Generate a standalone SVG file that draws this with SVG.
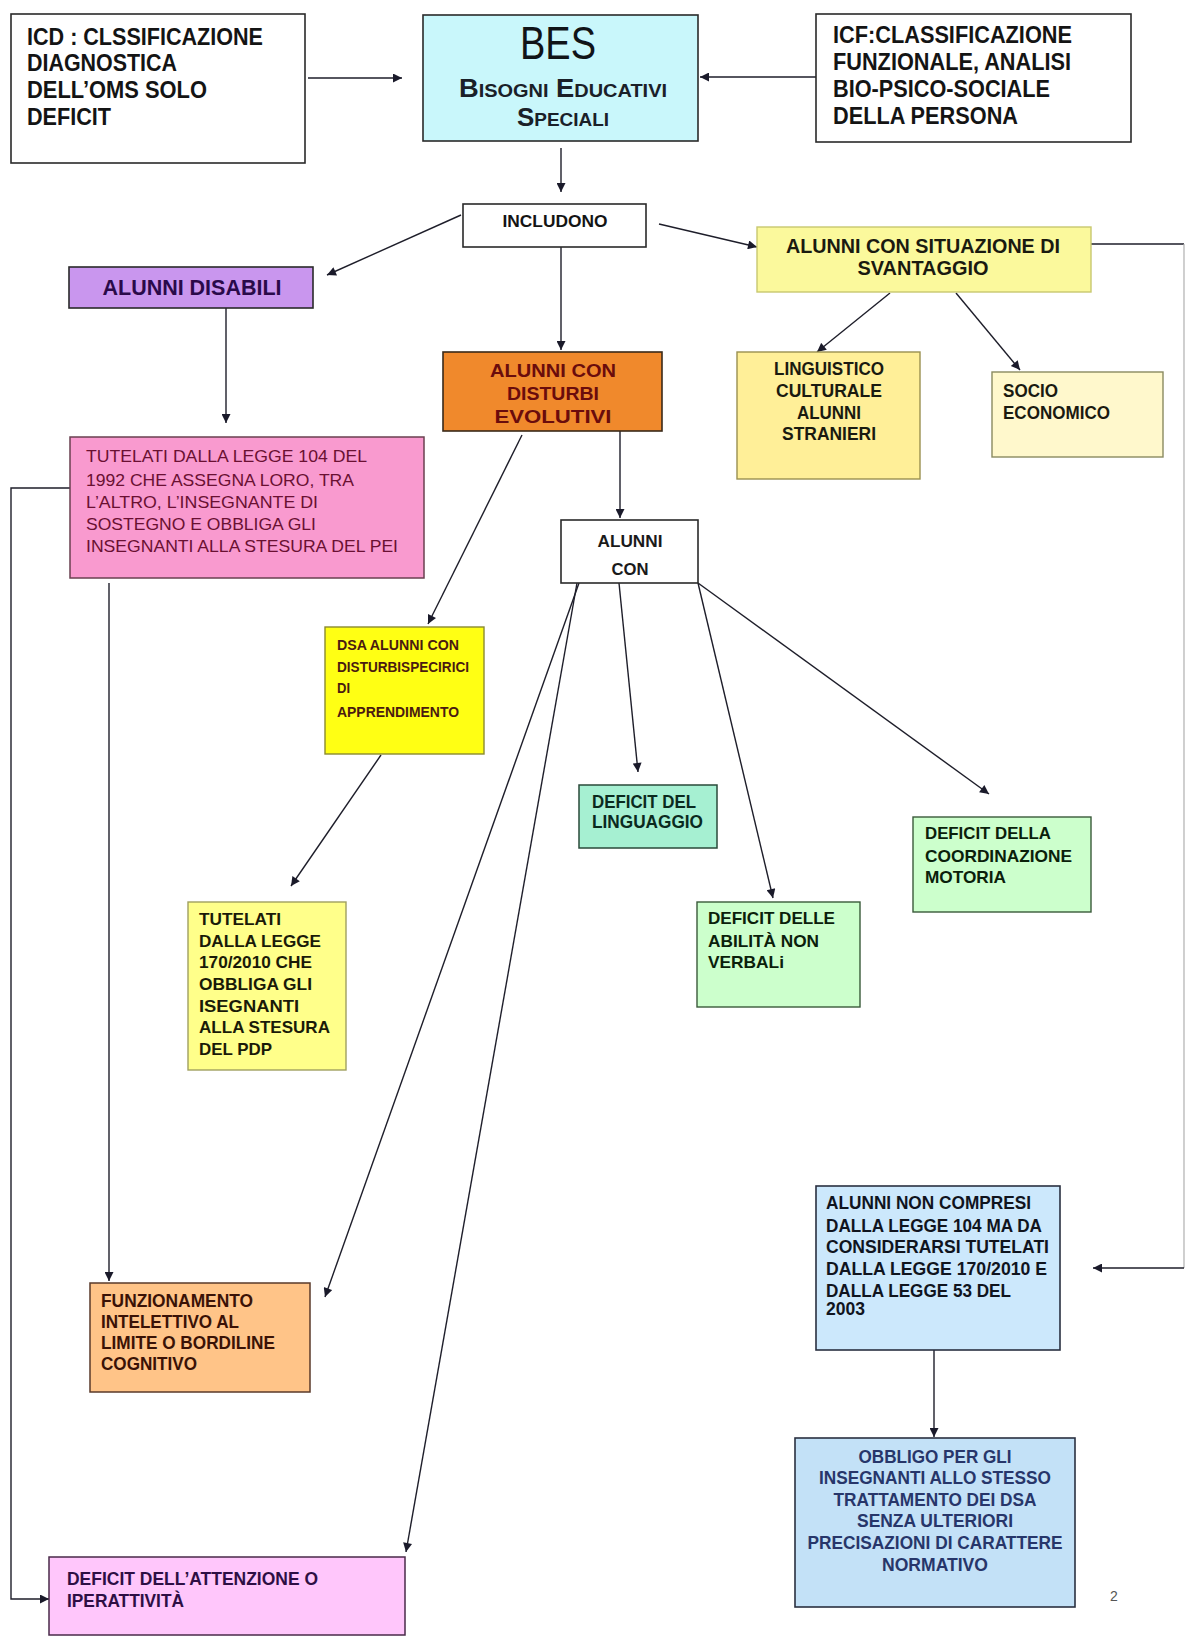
<svg xmlns="http://www.w3.org/2000/svg" width="1185" height="1639" viewBox="0 0 1185 1639">
<style>
.t{font-family:"Liberation Sans Narrow","Liberation Sans",Arial,sans-serif;font-weight:bold;}
.n{font-weight:normal;}
.m{text-anchor:middle;}
.bx{stroke:#2a2a2a;stroke-width:1.6;}
.c{fill:none;stroke:#1e1e2a;stroke-width:1.4;}
</style>
<defs>
<marker id="ah" viewBox="0 0 10 10" refX="10" refY="5" markerWidth="11" markerHeight="9" markerUnits="userSpaceOnUse" orient="auto">
<path d="M0,0 L10,5 L0,10 z" fill="#1a1a2a"/>
</marker>
</defs>
<rect width="1185" height="1639" fill="#ffffff"/>

<g id="connectors">
<path class="c" d="M308,78 L402,78" marker-end="url(#ah)"/>
<path class="c" d="M816,77 L700,77" marker-end="url(#ah)"/>
<path class="c" d="M561,148 L561,192" marker-end="url(#ah)"/>
<path class="c" d="M461,215 L327,275" marker-end="url(#ah)"/>
<path class="c" d="M561,247 L561,350" marker-end="url(#ah)"/>
<path class="c" d="M659,224 L757,247" marker-end="url(#ah)"/>
<path class="c" d="M1091,244 L1184,244"/>
<path d="M1184,244 L1184,1268" fill="none" stroke="#b0b0b0" stroke-width="1.2"/>
<path class="c" d="M1184,1268 L1093,1268" marker-end="url(#ah)"/>
<path class="c" d="M890,293 L817,352" marker-end="url(#ah)"/>
<path class="c" d="M956,293 L1020,370" marker-end="url(#ah)"/>
<path class="c" d="M226,298 L226,423" marker-end="url(#ah)"/>
<path class="c" d="M70,488 L11,488 L11,1599 L49,1599" marker-end="url(#ah)"/>
<path class="c" d="M109,583 L109,1281" marker-end="url(#ah)"/>
<path class="c" d="M522,435 L428,624" marker-end="url(#ah)"/>
<path class="c" d="M620,431 L620,518" marker-end="url(#ah)"/>
<path class="c" d="M381,755 L291,886" marker-end="url(#ah)"/>
<path class="c" d="M619,583 L638,772" marker-end="url(#ah)"/>
<path class="c" d="M698,583 L773,898" marker-end="url(#ah)"/>
<path class="c" d="M698,583 L989,794" marker-end="url(#ah)"/>
<path class="c" d="M579,583 L325,1297" marker-end="url(#ah)"/>
<path class="c" d="M577,583 L406,1552" marker-end="url(#ah)"/>
<path class="c" d="M934,1350 L934,1437" marker-end="url(#ah)"/>
</g>

<g id="icd">
<rect class="bx" x="11" y="14" width="294" height="149" fill="#ffffff"/>
<g class="t" font-size="24" fill="#141414">
<text x="27" y="45" textLength="236" lengthAdjust="spacingAndGlyphs">ICD : CLSSIFICAZIONE</text>
<text x="27" y="71" textLength="150" lengthAdjust="spacingAndGlyphs">DIAGNOSTICA</text>
<text x="27" y="98" textLength="180" lengthAdjust="spacingAndGlyphs">DELL’OMS SOLO</text>
<text x="27" y="125" textLength="84" lengthAdjust="spacingAndGlyphs">DEFICIT</text>
</g>
</g>

<g id="bes">
<rect class="bx" x="423" y="15" width="275" height="126" fill="#c9f7fb"/>
<text class="t n m" x="558" y="59" font-size="46" fill="#101418" textLength="76" lengthAdjust="spacingAndGlyphs">BES</text>
<text class="t m" x="563" y="97" fill="#1a2028" textLength="208" lengthAdjust="spacingAndGlyphs"><tspan font-size="26">B</tspan><tspan font-size="19">ISOGNI</tspan><tspan font-size="26"> E</tspan><tspan font-size="19">DUCATIVI</tspan></text>
<text class="t m" x="563" y="126" fill="#1a2028" textLength="92" lengthAdjust="spacingAndGlyphs"><tspan font-size="26">S</tspan><tspan font-size="19">PECIALI</tspan></text>
</g>

<g id="icf">
<rect class="bx" x="816" y="14" width="315" height="128" fill="#ffffff"/>
<g class="t" font-size="24" fill="#141414">
<text x="833" y="43" textLength="239" lengthAdjust="spacingAndGlyphs">ICF:CLASSIFICAZIONE</text>
<text x="833" y="70" textLength="238" lengthAdjust="spacingAndGlyphs">FUNZIONALE, ANALISI</text>
<text x="833" y="97" textLength="217" lengthAdjust="spacingAndGlyphs">BIO-PSICO-SOCIALE</text>
<text x="833" y="124" textLength="185" lengthAdjust="spacingAndGlyphs">DELLA PERSONA</text>
</g>
</g>

<g id="includono">
<rect class="bx" x="463" y="204" width="183" height="43" fill="#ffffff"/>
<text class="t m" x="555" y="227" font-size="17" fill="#141414" textLength="105" lengthAdjust="spacingAndGlyphs">INCLUDONO</text>
</g>

<g id="alunni-disabili">
<rect class="bx" x="69" y="267" width="244" height="41" fill="#c996ee"/>
<text class="t m" x="192" y="295" font-size="22" fill="#2a0a4a" textLength="179" lengthAdjust="spacingAndGlyphs">ALUNNI DISABILI</text>
</g>

<g id="svantaggio">
<rect x="757" y="227" width="334" height="65" fill="#fbf99c" stroke="#c8c870" stroke-width="1.4"/>
<g class="t m" font-size="21" fill="#1a1a10">
<text x="923" y="253" textLength="274" lengthAdjust="spacingAndGlyphs">ALUNNI CON SITUAZIONE DI</text>
<text x="923" y="275" textLength="131" lengthAdjust="spacingAndGlyphs">SVANTAGGIO</text>
</g>
</g>

<g id="linguistico">
<rect x="737" y="352" width="183" height="127" fill="#ffef98" stroke="#9a9050" stroke-width="1.4"/>
<g class="t m" font-size="18" fill="#1a1a10">
<text x="829" y="375" textLength="110" lengthAdjust="spacingAndGlyphs">LINGUISTICO</text>
<text x="829" y="397" textLength="106" lengthAdjust="spacingAndGlyphs">CULTURALE</text>
<text x="829" y="419" textLength="64" lengthAdjust="spacingAndGlyphs">ALUNNI</text>
<text x="829" y="440" textLength="94" lengthAdjust="spacingAndGlyphs">STRANIERI</text>
</g>
</g>

<g id="socio">
<rect x="992" y="372" width="171" height="85" fill="#fff8cc" stroke="#8a8a60" stroke-width="1.4"/>
<g class="t" font-size="18" fill="#1a1a10">
<text x="1003" y="397" textLength="55" lengthAdjust="spacingAndGlyphs">SOCIO</text>
<text x="1003" y="419" textLength="107" lengthAdjust="spacingAndGlyphs">ECONOMICO</text>
</g>
</g>

<g id="disturbi-evolutivi">
<rect x="443" y="352" width="219" height="79" fill="#f0892c" stroke="#3a2a1a" stroke-width="1.6"/>
<g class="t m" font-size="19" fill="#6a0c0c">
<text x="553" y="377" textLength="126" lengthAdjust="spacingAndGlyphs">ALUNNI CON</text>
<text x="553" y="400" textLength="92" lengthAdjust="spacingAndGlyphs">DISTURBI</text>
<text x="553" y="423" textLength="117" lengthAdjust="spacingAndGlyphs">EVOLUTIVI</text>
</g>
</g>

<g id="tutelati-104">
<rect x="70" y="437" width="354" height="141" fill="#f99acf" stroke="#6a4050" stroke-width="1.5"/>
<g class="t n" font-size="17" fill="#6a1032">
<text x="86" y="462" textLength="281" lengthAdjust="spacingAndGlyphs">TUTELATI DALLA LEGGE 104 DEL</text>
<text x="86" y="486" textLength="268" lengthAdjust="spacingAndGlyphs">1992 CHE ASSEGNA LORO, TRA</text>
<text x="86" y="508" textLength="232" lengthAdjust="spacingAndGlyphs">L’ALTRO, L’INSEGNANTE DI</text>
<text x="86" y="530" textLength="230" lengthAdjust="spacingAndGlyphs">SOSTEGNO E OBBLIGA GLI</text>
<text x="86" y="552" textLength="312" lengthAdjust="spacingAndGlyphs">INSEGNANTI ALLA STESURA DEL PEI</text>
</g>
</g>

<g id="alunni-con">
<rect class="bx" x="561" y="520" width="137" height="63" fill="#ffffff"/>
<g class="t m" font-size="17" fill="#1a1a1a">
<text x="630" y="547" textLength="65" lengthAdjust="spacingAndGlyphs">ALUNNI</text>
<text x="630" y="575" textLength="37" lengthAdjust="spacingAndGlyphs">CON</text>
</g>
</g>

<g id="dsa">
<rect x="325" y="627" width="159" height="127" fill="#ffff14" stroke="#8a8a30" stroke-width="1.4"/>
<g class="t" font-size="14" fill="#4a1a10">
<text x="337" y="650" textLength="122" lengthAdjust="spacingAndGlyphs">DSA ALUNNI CON</text>
<text x="337" y="672" textLength="132" lengthAdjust="spacingAndGlyphs">DISTURBISPECIRICI</text>
<text x="337" y="693" textLength="13" lengthAdjust="spacingAndGlyphs">DI</text>
<text x="337" y="717" textLength="122" lengthAdjust="spacingAndGlyphs">APPRENDIMENTO</text>
</g>
</g>

<g id="tutelati-170">
<rect x="188" y="902" width="158" height="168" fill="#ffff8a" stroke="#a0a060" stroke-width="1.4"/>
<g class="t" font-size="17" fill="#1a1a08">
<text x="199" y="925" textLength="82" lengthAdjust="spacingAndGlyphs">TUTELATI</text>
<text x="199" y="947" textLength="122" lengthAdjust="spacingAndGlyphs">DALLA LEGGE</text>
<text x="199" y="968" textLength="113" lengthAdjust="spacingAndGlyphs">170/2010 CHE</text>
<text x="199" y="990" textLength="113" lengthAdjust="spacingAndGlyphs">OBBLIGA GLI</text>
<text x="199" y="1012" textLength="100" lengthAdjust="spacingAndGlyphs">ISEGNANTI</text>
<text x="199" y="1033" textLength="131" lengthAdjust="spacingAndGlyphs">ALLA STESURA</text>
<text x="199" y="1055" textLength="73" lengthAdjust="spacingAndGlyphs">DEL PDP</text>
</g>
</g>

<g id="linguaggio">
<rect x="579" y="785" width="138" height="63" fill="#a6f0d2" stroke="#2a4a3a" stroke-width="1.5"/>
<g class="t" font-size="18" fill="#0a2a1e">
<text x="592" y="808" textLength="104" lengthAdjust="spacingAndGlyphs">DEFICIT DEL</text>
<text x="592" y="828" textLength="111" lengthAdjust="spacingAndGlyphs">LINGUAGGIO</text>
</g>
</g>

<g id="abilita">
<rect x="697" y="902" width="163" height="105" fill="#ccffcc" stroke="#3a5a3a" stroke-width="1.4"/>
<g class="t" font-size="17" fill="#0a200a">
<text x="708" y="924" textLength="127" lengthAdjust="spacingAndGlyphs">DEFICIT DELLE</text>
<text x="708" y="947" textLength="111" lengthAdjust="spacingAndGlyphs">ABILITÀ NON</text>
<text x="708" y="968" textLength="76" lengthAdjust="spacingAndGlyphs">VERBALi</text>
</g>
</g>

<g id="coordinazione">
<rect x="913" y="817" width="178" height="95" fill="#ccffcc" stroke="#3a5a3a" stroke-width="1.4"/>
<g class="t" font-size="17" fill="#0a200a">
<text x="925" y="839" textLength="126" lengthAdjust="spacingAndGlyphs">DEFICIT DELLA</text>
<text x="925" y="862" textLength="147" lengthAdjust="spacingAndGlyphs">COORDINAZIONE</text>
<text x="925" y="883" textLength="81" lengthAdjust="spacingAndGlyphs">MOTORIA</text>
</g>
</g>

<g id="funzionamento">
<rect x="90" y="1283" width="220" height="109" fill="#ffc488" stroke="#5a3a2a" stroke-width="1.5"/>
<g class="t" font-size="18" fill="#3a1206">
<text x="101" y="1307" textLength="152" lengthAdjust="spacingAndGlyphs">FUNZIONAMENTO</text>
<text x="101" y="1328" textLength="138" lengthAdjust="spacingAndGlyphs">INTELETTIVO AL</text>
<text x="101" y="1349" textLength="174" lengthAdjust="spacingAndGlyphs">LIMITE O BORDILINE</text>
<text x="101" y="1370" textLength="96" lengthAdjust="spacingAndGlyphs">COGNITIVO</text>
</g>
</g>

<g id="attenzione">
<rect x="49" y="1557" width="356" height="78" fill="#ffc6fb" stroke="#4a2a4a" stroke-width="1.5"/>
<g class="t" font-size="19" fill="#2e0e44">
<text x="67" y="1585" textLength="251" lengthAdjust="spacingAndGlyphs">DEFICIT DELL’ATTENZIONE O</text>
<text x="67" y="1607" textLength="117" lengthAdjust="spacingAndGlyphs">IPERATTIVITÀ</text>
</g>
</g>

<g id="non-compresi">
<rect x="816" y="1186" width="244" height="164" fill="#cce8fc" stroke="#2a3040" stroke-width="1.6"/>
<g class="t" font-size="19" fill="#10141e">
<text x="826" y="1209" textLength="205" lengthAdjust="spacingAndGlyphs">ALUNNI NON COMPRESI</text>
<text x="826" y="1232" textLength="216" lengthAdjust="spacingAndGlyphs">DALLA LEGGE 104 MA DA</text>
<text x="826" y="1253" textLength="223" lengthAdjust="spacingAndGlyphs">CONSIDERARSI TUTELATI</text>
<text x="826" y="1275" textLength="221" lengthAdjust="spacingAndGlyphs">DALLA LEGGE 170/2010  E</text>
<text x="826" y="1297" textLength="185" lengthAdjust="spacingAndGlyphs">DALLA LEGGE 53 DEL</text>
<text x="826" y="1315" textLength="39" lengthAdjust="spacingAndGlyphs">2003</text>
</g>
</g>

<g id="obbligo">
<rect x="795" y="1438" width="280" height="169" fill="#c3e1f7" stroke="#2a3040" stroke-width="1.6"/>
<g class="t m" font-size="18" fill="#27366a">
<text x="935" y="1463" textLength="153" lengthAdjust="spacingAndGlyphs">OBBLIGO PER GLI</text>
<text x="935" y="1484" textLength="232" lengthAdjust="spacingAndGlyphs">INSEGNANTI ALLO STESSO</text>
<text x="935" y="1506" textLength="203" lengthAdjust="spacingAndGlyphs">TRATTAMENTO DEI DSA</text>
<text x="935" y="1527" textLength="156" lengthAdjust="spacingAndGlyphs">SENZA ULTERIORI</text>
<text x="935" y="1549" textLength="255" lengthAdjust="spacingAndGlyphs">PRECISAZIONI DI CARATTERE</text>
<text x="935" y="1571" textLength="106" lengthAdjust="spacingAndGlyphs">NORMATIVO</text>
</g>
</g>

<text class="t n" x="1110" y="1601" font-size="14" fill="#555555">2</text>
</svg>
